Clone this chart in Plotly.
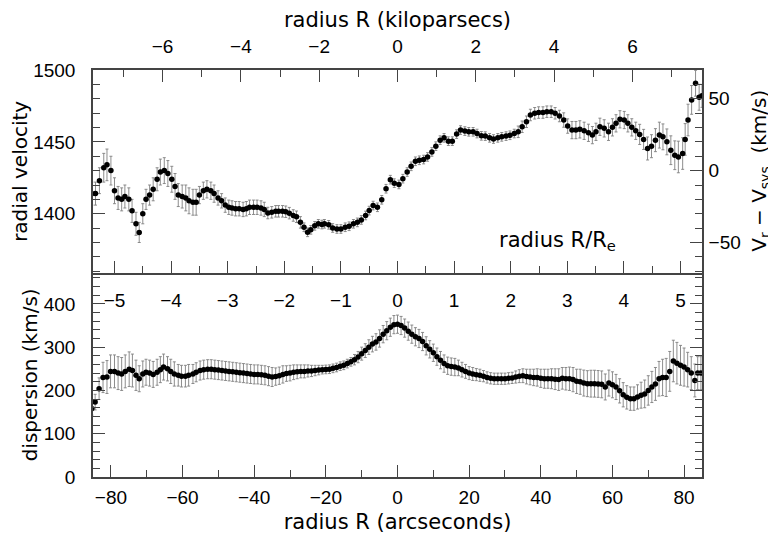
import plotly.graph_objects as go

# rotation curve, top panel (radius in arcsec, velocity km/s, error km/s)
vel_radius = [-85.3, -84.3, -83.2, -82.0, -81.1, -80.0, -79.0, -78.0, -77.0, -76.1, -75.0, -74.1, -73.0, -72.1,
              -71.1, -70.2, -69.2, -68.2, -67.1, -66.2, -65.1, -64.1, -63.0, -62.1, -61.2, -60.1, -59.1, -58.2,
              -57.1, -56.2, -55.3, -54.2, -53.2, -52.1, -51.2, -50.1, -49.1, -48.1, -47.1, -46.2, -45.2, -44.2,
              -43.1, -42.2, -41.3, -40.2, -39.2, -38.1, -37.2, -36.2, -35.1, -34.0, -33.2, -32.1, -31.2, -30.2,
              -29.1, -28.2, -27.1, -26.1, -25.1, -24.2, -23.1, -22.1, -21.1, -20.4, -19.2, -18.1, -16.9, -15.8,
              -14.6, -13.5, -12.3, -11.2, -10.1, -8.9, -7.9, -6.8, -5.6, -4.4, -3.2, -2.0, -0.9, 0.4,
              1.5, 2.7, 3.8, 5.0, 6.1, 7.3, 8.4, 9.6, 10.7, 11.9, 13.0, 14.2, 15.3, 16.5,
              17.6, 18.8, 19.9, 21.1, 22.2, 23.4, 24.5, 25.7, 26.8, 28.0, 29.1, 30.3, 31.4, 32.6,
              33.7, 34.8, 36.0, 37.1, 38.3, 39.4, 40.6, 41.7, 42.9, 44.0, 45.2, 46.4, 47.5, 48.7,
              49.8, 50.9, 52.1, 53.3, 54.4, 55.4, 56.5, 57.7, 58.9, 60.0, 61.0, 62.1, 63.3, 64.3,
              65.4, 66.5, 67.6, 68.7, 69.8, 70.9, 72.0, 73.1, 74.1, 75.2, 76.3, 77.4, 78.4, 79.6,
              80.3, 81.1, 82.1, 83.2, 84.2, 85.0]
velocity = [1414, 1414, 1423, 1432, 1434, 1430, 1416, 1411, 1410, 1412, 1410, 1402, 1393, 1387,
            1400, 1410, 1413, 1417, 1424, 1429, 1430, 1428, 1424, 1419, 1413, 1412, 1411, 1409,
            1408, 1408, 1413, 1416, 1417, 1416, 1414, 1411, 1409, 1406, 1404.5, 1404, 1403.5, 1403.5,
            1403, 1403.5, 1404.5, 1404.5, 1404.5, 1404, 1403, 1400.5, 1401, 1401.7, 1401.7, 1401.7, 1401.4, 1400.4,
            1398.8, 1397.9, 1394, 1390.6, 1387.1, 1388.8, 1391.6, 1393, 1392.5, 1393, 1392.3, 1390.1, 1389.4, 1389.4,
            1390.6, 1391.3, 1393, 1394, 1395.7, 1398.8, 1402.2, 1405.7, 1404.5, 1409.7, 1417.4, 1423.7, 1421.3, 1420.4,
            1424.4, 1429, 1433, 1436.5, 1437.2, 1437.7, 1439.5, 1443, 1447, 1451.2, 1452.8, 1450.5, 1450.5, 1455.4,
            1458.2, 1457.5, 1457, 1457, 1455.8, 1454.2, 1454, 1452.8, 1452, 1452.8, 1453.5, 1454, 1454.6, 1455.8,
            1457, 1460.5, 1464, 1468.7, 1469.9, 1470.4, 1470.4, 1471, 1471, 1469.9, 1468, 1465.2, 1461, 1458.2,
            1458.2, 1458.7, 1457.7, 1456.3, 1454.7, 1457, 1460.5, 1459.4, 1457, 1460.1, 1462.9, 1465.7, 1465.2, 1462.9,
            1460.1, 1457.7, 1455.2, 1451.7, 1445.4, 1447, 1451.2, 1454.7, 1453.5, 1450, 1444.2, 1440.7, 1439.5, 1441.9,
            1451.7, 1465.2, 1479.2, 1490.8, 1481, 1482]
vel_err = [8, 8, 9, 10, 11, 10, 9, 8, 8, 8, 8, 8, 8, 7,
           7, 7, 7, 8, 8, 9, 9, 9, 9, 9, 8, 8, 9, 9,
           9, 9, 6, 6, 6, 6, 6, 5, 5, 5, 5, 5, 5, 5,
           5, 5, 5, 5, 5, 5, 5, 4, 4, 4, 4, 4, 4, 4,
           4, 4, 4, 3, 3, 3, 3, 3, 3, 3, 3, 3, 3, 3,
           3, 3, 3, 3, 3, 3, 3, 3, 3, 3, 3, 3, 3, 3,
           3, 3, 3, 3, 3, 3, 3, 3, 3, 3, 3, 3, 3, 3,
           3, 3, 3, 3, 3, 3, 3, 3, 3, 3, 3, 3, 3, 3,
           4, 4, 4, 4, 4, 4, 4, 4, 4, 4, 4, 5, 5, 6,
           6, 6, 6, 6, 6, 6, 6, 6, 6, 6, 6, 6, 6, 6,
           6, 6, 7, 7, 8, 8, 8, 9, 9, 9, 10, 10, 11, 11,
           11, 11, 10, 9, 9, 8]

# velocity dispersion, bottom panel
disp_radius = [-85.3, -84.4, -83.3, -82.2, -81.1, -80.1, -79.0, -78.0, -77.0, -76.0, -74.9, -74.0, -73.0, -72.1,
               -71.1, -70.2, -69.2, -68.2, -67.1, -66.2, -65.3, -64.2, -63.3, -62.3, -61.2, -60.3, -59.2, -58.3,
               -57.1, -56.2, -55.1, -54.1, -53, -52, -51, -50, -49, -48, -47, -46, -45, -44,
               -43, -42, -41, -40, -39, -38, -37, -36, -35, -34, -33, -32, -31, -30,
               -29, -28, -27, -26, -25, -24, -23, -22, -21, -20, -19, -18, -17, -16,
               -15, -14, -13, -12, -11, -10, -9, -8, -7, -6, -5, -4, -3, -2,
               -1, 0, 1, 2, 3, 4, 5, 6, 7, 8, 9, 10, 11, 12,
               13, 14, 15, 16, 17, 18, 19, 20, 21, 22, 23, 24, 25, 26,
               27, 28, 29, 30, 31, 32, 33, 34, 35, 36, 37, 38, 39, 40,
               41, 42, 43, 44, 45, 46, 47, 48, 49, 50, 51, 52, 53, 54,
               55, 56, 57, 58, 59, 60, 61, 62, 63, 64, 65, 66, 67, 68,
               69, 70, 71, 72, 73, 74, 75, 76, 77, 78, 79, 80, 81, 82,
               83, 83.8, 84.7]
dispersion = [158, 173, 204, 230, 231, 244, 244, 240, 238, 244, 249, 246, 235, 227,
              238, 242, 240, 237, 242, 248, 254, 250, 244, 238, 235, 233, 233, 235,
              238, 242, 246, 248, 249, 249, 248, 247, 246, 245, 244, 243, 242, 241,
              240, 239, 238, 237, 237, 236, 235, 233, 231, 232, 234, 237, 239, 240,
              242, 243, 244, 244, 245, 245, 246, 247, 248, 248.5, 249, 251, 253, 256,
              258, 262, 266, 271, 277, 285, 292, 300, 307, 312, 320, 330, 338, 346,
              352, 353, 350, 344, 337, 330, 324, 320, 313, 303, 295, 287, 278, 270,
              262, 257, 255, 254, 252, 248, 244, 240, 238, 236.5, 235, 233, 230, 228,
              227, 227, 227, 227, 228, 229, 231, 233, 234, 232, 231, 230, 230, 228,
              227, 227, 227, 226, 225, 228, 227, 227, 225, 221, 220, 217, 215.6, 215.6,
              215.6, 215, 214, 208, 217, 213, 208, 199, 190, 184, 181, 181, 185, 189,
              192, 200, 208, 215, 227, 230, 230, 244, 268, 263, 258, 254, 248, 240,
              223, 240, 240]
disp_err = [15, 18, 25, 35, 38, 38, 38, 38, 38, 38, 40, 38, 35, 30,
            30, 30, 30, 30, 30, 30, 30, 28, 28, 28, 25, 25, 25, 25,
            22, 22, 22, 22, 22, 22, 22, 22, 22, 22, 22, 22, 22, 22,
            22, 22, 22, 22, 22, 22, 22, 22, 22, 20, 20, 20, 18, 18,
            17, 16, 15, 15, 14, 13, 12, 11, 10, 10, 10, 10, 10, 10,
            10, 10, 10, 12, 13, 15, 16, 17, 18, 19, 20, 20, 21, 21,
            21, 21, 21, 21, 21, 21, 21, 21, 21, 21, 20, 20, 20, 20,
            20, 20, 20, 20, 18, 17, 16, 15, 15, 14, 14, 13, 13, 13,
            13, 13, 13, 13, 13, 13, 14, 15, 16, 17, 18, 19, 20, 21,
            22, 22, 23, 24, 25, 25, 26, 27, 28, 28, 29, 30, 30, 31,
            31, 31, 31, 30, 30, 30, 29, 28, 28, 27, 27, 27, 28, 30,
            32, 34, 36, 38, 40, 42, 44, 46, 48, 48, 46, 44, 40, 38,
            38, 38, 38]

V_SYS = 1430          # systemic velocity, km/s
ARCSEC_PER_RE = 15.8  # effective radius
ARCSEC_PER_KPC = 10.93
XMAX = 85

TICKFONT = dict(family="Liberation Sans, Arial, sans-serif", size=19, color="black")
XTITLE = dict(family="DejaVu Sans, sans-serif", size=21, color="black")
YTITLE = dict(family="DejaVu Sans, sans-serif", size=20, color="black")
AX = dict(showline=True, linecolor="#444", linewidth=1.5, ticks="inside", tickcolor="#444",
          showgrid=False, zeroline=False, tickfont=TICKFONT, automargin=False)
MINOR = dict(ticklen=7, ticks="inside", tickcolor="#444")

fig = go.Figure()

fig.add_trace(go.Scatter(
    x=vel_radius, y=velocity, xaxis="x2", yaxis="y2", mode="markers",
    marker=dict(color="black", size=5.5),
    error_y=dict(type="data", array=vel_err, color="#808080", thickness=0.9, width=1.5),
    showlegend=False))

fig.add_trace(go.Scatter(
    x=disp_radius, y=dispersion, xaxis="x", yaxis="y", mode="markers",
    marker=dict(color="black", size=5.5),
    error_y=dict(type="data", array=disp_err, color="#808080", thickness=0.9, width=1.5),
    showlegend=False))

# empty traces so that the secondary axes get drawn
for xa, ya in [("x3", "y2"), ("x4", "y2"), ("x2", "y3")]:
    fig.add_trace(go.Scatter(x=[], y=[], xaxis=xa, yaxis=ya, mode="markers",
                             showlegend=False, hoverinfo="skip"))

# the page body has an 8px margin, so the figure is 8px smaller than the window
fig.update_layout(
    width=768, height=531,
    margin=dict(l=85, r=74, t=62, b=62),
    paper_bgcolor="white", plot_bgcolor="white",
    # bottom panel: arcsec axis
    xaxis=dict(AX, domain=[0, 1], anchor="y", range=[-XMAX, XMAX], dtick=20, ticklen=12,
               minor=dict(MINOR, dtick=10), ticklabelstandoff=2,
               title=dict(text="radius R (arcseconds)", font=XTITLE, standoff=8)),
    yaxis=dict(AX, domain=[0, 0.502], anchor="x", range=[0, 472], dtick=100, ticklen=12,
               minor=dict(MINOR, dtick=20), mirror="ticks", ticklabelstandoff=12,
               title=dict(text="dispersion (km/s)", font=YTITLE, standoff=1)),
    # top panel: hidden arcsec axis for the data
    xaxis2=dict(domain=[0, 1], anchor="y2", matches="x", visible=False),
    # R/Re axis on the boundary, labels fall inside the lower panel
    xaxis3=dict(AX, overlaying="x2", anchor="y2", side="bottom",
                range=[-XMAX / ARCSEC_PER_RE, XMAX / ARCSEC_PER_RE], dtick=1, ticklen=12,
                minor=dict(MINOR, dtick=0.5), ticklabelstandoff=10),
    # kiloparsec axis on top
    xaxis4=dict(AX, overlaying="x2", anchor="y2", side="top",
                range=[-XMAX / ARCSEC_PER_KPC, XMAX / ARCSEC_PER_KPC], dtick=2, ticklen=12,
                minor=dict(MINOR, dtick=1), ticklabelstandoff=8,
                title=dict(text="radius R (kiloparsecs)", font=XTITLE, standoff=5)),
    yaxis2=dict(AX, domain=[0.502, 1], anchor="x2", range=[1359, 1500], dtick=50, ticklen=12,
                minor=dict(MINOR, dtick=10), ticklabelstandoff=12,
                title=dict(text="radial velocity", font=YTITLE, standoff=1)),
    yaxis3=dict(AX, overlaying="y2", anchor="x2", side="right",
                range=[1359 - V_SYS, 1500 - V_SYS], dtick=50, ticklen=12,
                minor=dict(MINOR, dtick=10), ticklabelstandoff=1),
    annotations=[
        dict(text="radius R/R<sub>e</sub>", xref="x2", yref="y2", x=44.7, y=1381,
             showarrow=False, font=XTITLE),
        # right-hand axis title, placed by hand so it stays on the canvas
        dict(text="V<sub>r</sub> − V<sub>sys</sub>  (km/s)", xref="paper", yref="paper",
             x=1.095, y=0.752, xanchor="center", yanchor="middle", textangle=-90,
             showarrow=False, font=YTITLE),
    ],
)

fig.write_html("out.html")
